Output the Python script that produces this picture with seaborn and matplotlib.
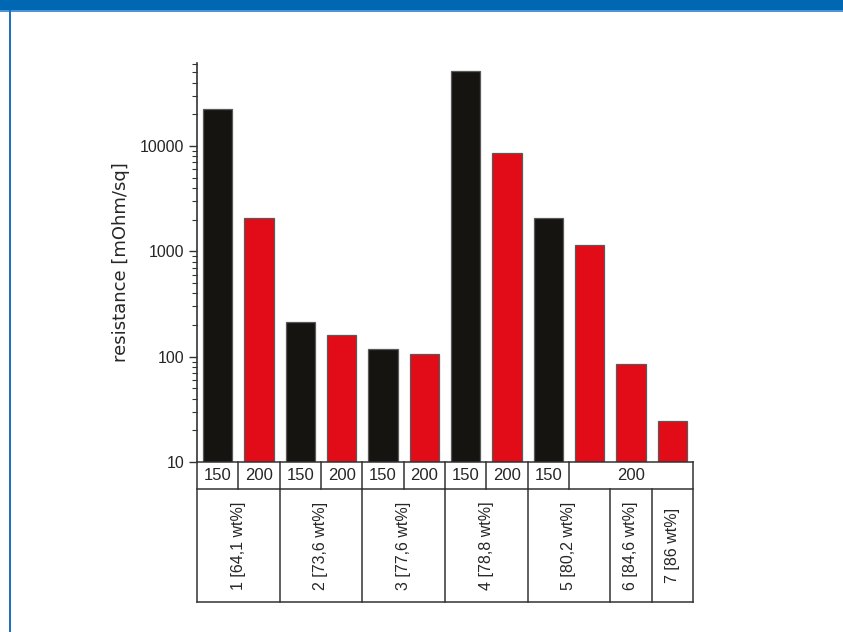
import numpy as np
import pandas as pd
import matplotlib
matplotlib.use("Agg")
import matplotlib.pyplot as plt
import matplotlib.transforms as mtransforms
from matplotlib.lines import Line2D
from matplotlib.patches import Rectangle
from matplotlib.ticker import FixedLocator, FuncFormatter, LogLocator, NullFormatter
import seaborn as sns

# ---------------- data ----------------
temperatures = [150, 200, 150, 200, 150, 200, 150, 200, 150, 200, 200, 200]
resistance = [22600, 2090, 212, 160, 118, 106, 51200, 8610, 2070, 1160, 86, 24.5]
sample_of_bar = [1, 1, 2, 2, 3, 3, 4, 4, 5, 5, 6, 7]
sample_labels = ["1 [64,1 wt%]", "2 [73,6 wt%]", "3 [77,6 wt%]", "4 [78,8 wt%]",
                 "5 [80,2 wt%]", "6 [84,6 wt%]", "7 [86 wt%]"]
y_ticks = [10, 100, 1000, 10000]
y_label = "resistance [mOhm/sq]"

BLACK = "#161410"
RED = "#e10c17"
LINE = "#333333"
TXT = "#262626"

sns.set_style("white")
plt.rcParams["font.family"] = ["Liberation Sans", "DejaVu Sans"]

df = pd.DataFrame({
    "bar": [str(i) for i in range(len(resistance))],
    "T": temperatures,
    "R": resistance,
})

fig = plt.figure(figsize=(8.43, 6.32), dpi=100)
W, H = 843, 632
ax_l, ax_r, ax_t, ax_b = 197, 693, 63, 462
ax = fig.add_axes([ax_l / W, 1 - ax_b / H, (ax_r - ax_l) / W, (ax_b - ax_t) / H])
ax.set_yscale("log")

sns.barplot(data=df, x="bar", y="R", hue="T", order=df["bar"].tolist(),
            palette={150: BLACK, 200: RED}, saturation=1, dodge=False, width=0.715,
            edgecolor="#5a5a5a", linewidth=0.9, errorbar=None, legend=False, ax=ax)

ax.set_xlim(-0.5, len(resistance) - 0.5)
ax.set_ylim(10, 61500)
ax.set_xticks([])
ax.set_xlabel("")
ax.yaxis.set_major_locator(FixedLocator(y_ticks))
ax.yaxis.set_major_formatter(FuncFormatter(lambda v, p: f"{int(round(v))}"))
ax.yaxis.set_minor_locator(LogLocator(base=10, subs=np.arange(2, 10)))
ax.yaxis.set_minor_formatter(NullFormatter())
ax.tick_params(axis="y", which="major", length=6, width=1.0, direction="out",
               labelsize=11.5, pad=3, color=LINE, labelcolor=TXT, left=True)
ax.tick_params(axis="y", which="minor", length=3.5, width=0.8, direction="out",
               color=LINE, left=True)
ax.set_ylabel(y_label, fontsize=13, family=["DejaVu Sans"], color=TXT, labelpad=7)
for s in ["top", "right", "bottom"]:
    ax.spines[s].set_visible(False)
ax.spines["left"].set_color(LINE)
ax.spines["left"].set_linewidth(1.2)

# ---------------- table below the axis ----------------
trans = mtransforms.blended_transform_factory(ax.transData, ax.transAxes)
ah = ax_b - ax_t
r1 = -(489 - ax_b) / ah
r2 = -(602 - ax_b) / ah
n = len(resistance)
x0, x1 = -0.5, n - 0.5
lw = 1.1

def hline(y, xa, xb):
    ax.add_artist(Line2D([xa, xb], [y, y], transform=trans, color=LINE, lw=lw,
                         clip_on=False, solid_capstyle="projecting"))

def vline(x, ya, yb):
    ax.add_artist(Line2D([x, x], [ya, yb], transform=trans, color=LINE, lw=lw,
                         clip_on=False, solid_capstyle="projecting"))

hline(0, x0, x1)
hline(r1, x0, x1)
hline(r2, x0, x1)
vline(x0, r2, 0)
vline(x1, r2, 0)

# temperature row: merge consecutive equal temperatures
start = 0
for i in range(1, n + 1):
    if i == n or temperatures[i] != temperatures[start]:
        if i < n:
            vline(i - 0.5, r1, 0)
        ax.text((start + i - 1) / 2, r1 / 2, str(temperatures[start]), transform=trans,
                ha="center", va="center", fontsize=12, color=TXT, clip_on=False)
        start = i

# sample row
start = 0
for i in range(1, n + 1):
    if i == n or sample_of_bar[i] != sample_of_bar[start]:
        if i < n:
            vline(i - 0.5, r2, r1)
        ax.text((start + i - 1) / 2, (r1 + r2) / 2,
                sample_labels[sample_of_bar[start] - 1], transform=trans,
                ha="center", va="center", rotation=90, fontsize=11.5, color=TXT,
                clip_on=False)
        start = i

# ---------------- page decoration ----------------
fig.add_artist(Rectangle((0, 1 - 10 / H), 1, 10 / H, transform=fig.transFigure,
                         color="#0067b3", lw=0))
fig.add_artist(Rectangle((0, 1 - 12 / H), 1, 2 / H, transform=fig.transFigure,
                         color="#4d95d3", lw=0))
fig.add_artist(Rectangle((9 / W, 0), 1.5 / W, 1 - 10 / H, transform=fig.transFigure,
                         color="#1f72c0", lw=0))

fig.savefig("out.png", dpi=100)
